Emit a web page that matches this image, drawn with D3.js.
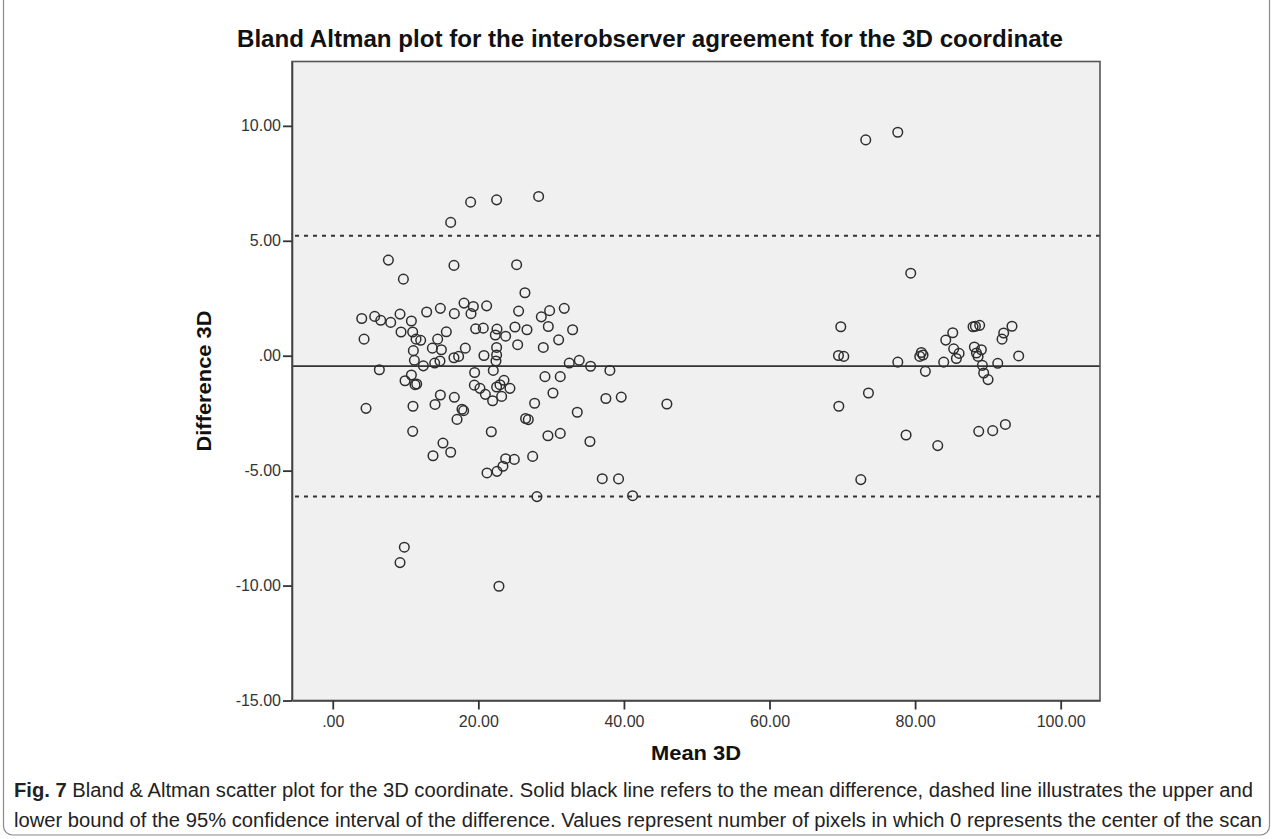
<!DOCTYPE html>
<html>
<head>
<meta charset="utf-8">
<script src="https://cdn.jsdelivr.net/npm/d3@7/dist/d3.min.js"></script>
<style>
  body { margin: 0; background: #fff; }
  svg { display: block; font-family: "Liberation Sans", Arial, sans-serif; }
</style>
</head>
<body>
<div id="chart"></div>
<script>
// values
let mean3D = [18.94, 22.51, 28.28, 16.20, 7.64, 16.65, 25.26, 9.70, 26.40, 3.98,
    5.76, 6.59, 7.96, 9.24, 10.80, 12.90, 14.78, 16.70, 18.03, 19.31,
    18.99, 21.14, 25.53, 28.65, 29.79, 31.80, 4.30, 9.38, 10.98, 11.44,
    12.08, 15.60, 14.41, 13.68, 14.92, 11.07, 11.21, 12.44, 14.00, 14.73,
    16.65, 17.29, 18.21, 19.63, 20.68, 22.56, 22.33, 23.75, 25.03, 26.68,
    25.40, 22.51, 22.51, 22.42, 20.77, 28.92, 31.03, 29.61, 32.95, 32.49,
    33.86, 35.42, 38.07, 6.40, 10.80, 9.93, 11.30, 11.53, 19.49, 22.05,
    19.45, 20.22, 20.96, 21.96, 23.20, 22.97, 23.52, 24.34, 22.51, 29.15,
    31.25, 30.25, 4.57, 11.02, 14.05, 14.78, 16.70, 17.75, 17.98, 17.07,
    10.98, 21.78, 26.49, 26.86, 27.73, 33.59, 37.52, 39.63, 45.90, 15.14,
    16.20, 13.77, 29.56, 31.25, 35.33, 27.46, 23.75, 24.94, 23.38, 22.56,
    21.19, 37.02, 39.26, 28.05, 41.19, 9.83, 9.24, 22.83,
    73.22, 77.62, 79.40, 69.79, 69.47, 70.20, 73.59, 69.52, 72.54, 77.62,
    78.76, 80.86, 80.64, 81.09, 81.41, 83.11, 83.93, 84.21, 85.17, 85.30,
    86.04, 85.67, 87.96, 88.28, 88.87, 88.14, 88.42, 89.10, 88.65, 89.24,
    89.42, 90.02, 91.35, 91.94, 92.17, 93.31, 94.23, 88.74, 90.66, 92.40];
let diff3D = [6.68, 6.78, 6.93, 5.80, 4.16, 3.93, 3.96, 3.33, 2.74, 1.62,
    1.71, 1.54, 1.45, 1.81, 1.51, 1.90, 2.06, 1.83, 2.29, 2.14,
    1.83, 2.17, 1.94, 1.69, 1.96, 2.06, 0.72, 1.03, 1.03, 0.72,
    0.67, 1.04, 0.72, 0.33, 0.26, 0.22, -0.20, -0.44, -0.32, -0.23,
    -0.09, -0.03, 0.33, 1.17, 1.20, 1.16, 0.90, 0.85, 1.25, 1.13,
    0.48, 0.36, 0.03, -0.23, 0.01, 0.36, 0.69, 1.27, 1.13, -0.32,
    -0.20, -0.46, -0.64, -0.61, -0.84, -1.09, -1.26, -1.23, -0.73, -0.64,
    -1.28, -1.42, -1.68, -1.96, -1.77, -1.26, -1.07, -1.42, -1.36, -0.91,
    -0.91, -1.62, -2.29, -2.20, -2.12, -1.71, -1.81, -2.33, -2.39, -2.77,
    -3.29, -3.31, -2.73, -2.78, -2.07, -2.46, -1.86, -1.80, -2.10, -3.80,
    -4.20, -4.35, -3.48, -3.38, -3.73, -4.38, -4.48, -4.51, -4.81, -5.03,
    -5.10, -5.35, -5.36, -6.13, -6.09, -8.33, -9.00, -10.03,
    9.39, 9.72, 3.59, 1.26, 0.01, -0.03, -1.62, -2.20, -5.39, -0.28,
    -3.45, 0.14, -0.03, 0.03, -0.68, -3.91, -0.28, 0.68, 1.00, 0.30,
    0.10, -0.12, 1.26, 1.28, 1.32, 0.38, 0.12, 0.26, -0.03, -0.42,
    -0.75, -1.04, -0.33, 0.72, 0.99, 1.28, -0.01, -3.29, -3.26, -2.99];

let meanDiff = -0.455;
let limits = [5.215, -6.125];   // upper / lower bound
let xTicks = [0, 20, 40, 60, 80, 100];
let yTicks = [-15, -10, -5, 0, 5, 10];
let xDomain = [-5.6, 105.4];
let yDomain = [-15, 12.8];

let title = "Bland Altman plot for the interobserver agreement for the 3D coordinate";
let xTitle = "Mean 3D";
let yTitle = "Difference 3D";
let caption = [
    ["Fig. 7", " Bland & Altman scatter plot for the 3D coordinate. Solid black line refers to the mean difference, dashed line illustrates the upper and"],
    ["", "lower bound of the 95% confidence interval of the difference. Values represent number of pixels in which 0 represents the center of the scan"]
];

let W = 1282, H = 839;
let plot = { left: 292, right: 1100, top: 61.5, bottom: 700.5 };

let svg = d3.select("#chart").append("svg")
    .attr("width", W)
    .attr("height", H);

// outer frame of the figure
svg.append("rect")
    .attr("x", 3.5).attr("y", -12)
    .attr("width", 1266).attr("height", 847)
    .attr("rx", 9)
    .attr("fill", "none")
    .attr("stroke", "#8a8a8a")
    .attr("stroke-width", 1.2);

let x = d3.scaleLinear().domain(xDomain).range([plot.left, plot.right]);
let y = d3.scaleLinear().domain(yDomain).range([plot.bottom, plot.top]);

// SPSS style: 0 -> ".00", plain hyphen for minus
let fmt = d => d3.format(".2f")(d).replace("\u2212", "-").replace(/^(-?)0\./, "$1.");

// plot background
svg.append("rect")
    .attr("x", plot.left).attr("y", plot.top)
    .attr("width", plot.right - plot.left)
    .attr("height", plot.bottom - plot.top)
    .attr("fill", "#f0f0f0");

// reference lines
svg.append("line")
    .attr("x1", plot.left).attr("x2", plot.right)
    .attr("y1", y(meanDiff)).attr("y2", y(meanDiff))
    .attr("stroke", "#333").attr("stroke-width", 1.7);

svg.selectAll(".limit")
    .data(limits)
    .enter()
    .append("line")
    .attr("class", "limit")
    .attr("x1", plot.left + 3).attr("x2", plot.right)
    .attr("y1", d => y(d)).attr("y2", d => y(d))
    .attr("stroke", "#333").attr("stroke-width", 2)
    .attr("stroke-dasharray", "4,5");

// points
svg.selectAll(".pt")
    .data(d3.zip(mean3D, diff3D))
    .enter()
    .append("circle")
    .attr("class", "pt")
    .attr("cx", d => x(d[0]))
    .attr("cy", d => y(d[1]))
    .attr("r", 4.8)
    .attr("fill", "none")
    .attr("stroke", "#2e2e2e")
    .attr("stroke-width", 1.5);

// frame of plot area
svg.append("rect")
    .attr("x", plot.left).attr("y", plot.top)
    .attr("width", plot.right - plot.left)
    .attr("height", plot.bottom - plot.top)
    .attr("fill", "none")
    .attr("stroke", "#555")
    .attr("stroke-width", 1.6);

// axes
let xAxis = svg.append("g")
    .attr("transform", "translate(0," + plot.bottom + ")")
    .call(d3.axisBottom(x).tickValues(xTicks).tickFormat(fmt).tickSize(9).tickSizeOuter(0).tickPadding(6));
let yAxis = svg.append("g")
    .attr("transform", "translate(" + plot.left + ",0)")
    .call(d3.axisLeft(y).tickValues(yTicks).tickFormat(fmt).tickSize(9).tickSizeOuter(0).tickPadding(2));

[xAxis, yAxis].forEach(g => {
    g.select(".domain").attr("stroke", "#444").attr("stroke-width", 1.6);
    g.selectAll(".tick line").attr("stroke", "#333").attr("stroke-width", 1.8);
    g.selectAll(".tick text")
        .attr("fill", "#333")
        .style("font-family", "'Liberation Sans', Arial, sans-serif")
        .style("font-size", "16px");
});

// titles
svg.append("text")
    .attr("x", 237).attr("y", 47)
    .attr("textLength", 826)
    .attr("lengthAdjust", "spacingAndGlyphs")
    .style("font-size", "23px")
    .style("font-weight", "bold")
    .attr("fill", "#111")
    .text(title);

svg.append("text")
    .attr("x", (plot.left + plot.right) / 2).attr("y", 760)
    .attr("text-anchor", "middle")
    .attr("textLength", 90)
    .attr("lengthAdjust", "spacingAndGlyphs")
    .style("font-size", "21px")
    .style("font-weight", "bold")
    .attr("fill", "#111")
    .text(xTitle);

svg.append("text")
    .attr("transform", "translate(211," + (plot.top + plot.bottom) / 2 + ") rotate(-90)")
    .attr("text-anchor", "middle")
    .attr("textLength", 141)
    .attr("lengthAdjust", "spacingAndGlyphs")
    .style("font-size", "21px")
    .style("font-weight", "bold")
    .attr("fill", "#111")
    .text(yTitle);

// figure caption
let capWidths = [1239, 1248];
caption.forEach((line, i) => {
    let t = svg.append("text")
        .attr("x", 14).attr("y", 797 + i * 30)
        .attr("textLength", capWidths[i])
        .attr("lengthAdjust", "spacingAndGlyphs")
        .style("font-family", "'Liberation Sans Narrow', 'Liberation Sans', sans-serif")
        .style("font-size", "20px")
        .attr("fill", "#222");
    if (line[0]) t.append("tspan").style("font-weight", "bold").text(line[0]);
    t.append("tspan").text(line[1]);
});
</script>
</body>
</html>
